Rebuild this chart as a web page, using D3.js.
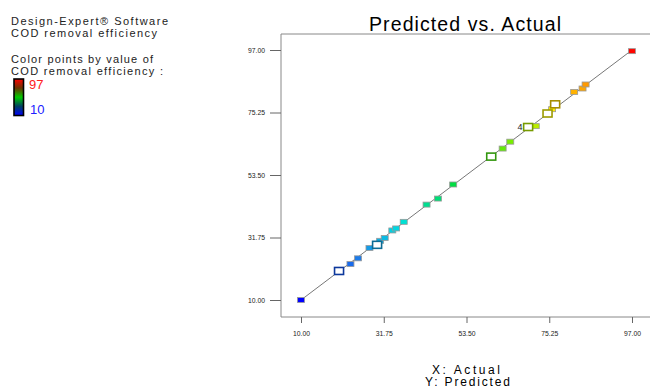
<!DOCTYPE html>
<html>
<head>
<meta charset="utf-8">
<script src="https://cdn.jsdelivr.net/npm/d3@7"></script>
<style>
  body { margin: 0; background: #fff; }
  svg { font-family: "Liberation Sans", Arial, sans-serif; }
</style>
</head>
<body>
<div id="chart"></div>
<script>
// design points
const actual    = [10, 20, 23, 25, 28, 30, 30.8, 32, 34, 35, 37, 43, 46, 50, 60, 63, 65, 69.7, 71.7, 74.8, 76, 76.8, 81.8, 84, 84.8, 97];
const predicted = [10, 20.1, 22.5, 24.5, 28.1, 29.2, 30.6, 31.6, 34.2, 34.9, 37.2, 43.2, 45.3, 50.2, 59.9, 62.7, 65.1, 70.2, 70.5, 74.9, 76.4, 78.1, 82.4, 83.6, 85, 96.6];
const pointCount = [1, 2, 1, 1, 1, 2, 1, 1, 1, 1, 1, 1, 1, 1, 2, 1, 1, 4, 1, 2, 1, 2, 1, 1, 1, 1];
const tickValues = [10.00, 31.75, 53.50, 75.25, 97.00];
const colorStops = [10, 25, 36, 50, 65, 76, 85, 97];
const colorRange = ["#0000ff", "#1e80e8", "#00e0e0", "#00dd44", "#77ee00", "#ffee00", "#ff9900", "#ff0000"];

const width = 651, height = 388;
const frame = {left: 281, top: 34, right: 650, bottom: 317};

let svg = d3.select('#chart').append('svg')
    .attr('width', width)
    .attr('height', height);

let xScale = d3.scaleLinear().domain([10, 97]).range([301, 632]);
let yScale = d3.scaleLinear().domain([10, 97]).range([300, 50]);
let color = d3.scaleLinear().domain(colorStops).range(colorRange);

// frame
svg.append('path')
    .attr('d', `M${frame.left},${frame.top}H${frame.right}M${frame.left},${frame.top}V${frame.bottom}H${frame.right}`)
    .attr('fill', 'none')
    .attr('stroke', '#888')
    .attr('stroke-width', 1);

// axes
let xAxis = d3.axisBottom(xScale).tickValues(tickValues).tickSize(6).tickSizeOuter(0)
    .tickFormat(d3.format('.2f'));
let yAxis = d3.axisLeft(yScale).tickValues(tickValues).tickSize(11).tickSizeOuter(0)
    .tickFormat(d3.format('.2f'));

let gx = svg.append('g')
    .attr('transform', 'translate(0,' + frame.bottom + ')')
    .call(xAxis);
let gy = svg.append('g')
    .attr('transform', 'translate(' + frame.left + ',0)')
    .call(yAxis);
[gx, gy].forEach(g => {
    g.select('.domain').remove();
    g.selectAll('.tick line').attr('stroke', '#666');
    g.selectAll('.tick text')
        .attr('font-size', 6.8)
        .attr('fill', '#222')
        .attr('font-family', '"Liberation Sans", Arial, sans-serif');
});
gx.selectAll('.tick text').attr('dy', '1.45em');
gy.selectAll('.tick text').attr('dx', '-0.3em');

// diagonal
svg.append('line')
    .attr('x1', xScale(10)).attr('y1', yScale(10))
    .attr('x2', xScale(97)).attr('y2', yScale(97))
    .attr('stroke', '#777')
    .attr('stroke-width', 1);

// points
let pts = actual.map((a, i) => ({a: a, p: predicted[i], n: pointCount[i]}));

svg.append('g').selectAll('rect.single')
    .data(pts.filter(d => d.n === 1))
    .enter().append('rect')
    .attr('x', d => xScale(d.a) - 3.5)
    .attr('y', d => yScale(d.p) - 2.5)
    .attr('width', 7)
    .attr('height', 5)
    .attr('fill', d => color(d.p))
    .attr('stroke', '#999')
    .attr('stroke-width', 0.8);

svg.append('g').selectAll('rect.multi')
    .data(pts.filter(d => d.n > 1))
    .enter().append('rect')
    .attr('x', d => xScale(d.a) - 4.5)
    .attr('y', d => yScale(d.p) - 3.5)
    .attr('width', 9)
    .attr('height', 7)
    .attr('fill', '#fff')
    .attr('stroke', d => d3.color(color(d.p)).darker(1.2))
    .attr('stroke-width', 1.6);

svg.append('g').selectAll('text')
    .data(pts.filter(d => d.n > 2))
    .enter().append('text')
    .attr('x', d => xScale(d.a) - 5.5)
    .attr('y', d => yScale(d.p) + 3)
    .attr('text-anchor', 'end')
    .attr('font-size', 9)
    .attr('fill', '#222')
    .text(d => d.n);

// title and axis captions
svg.append('text')
    .attr('x', 369).attr('y', 31)
    .attr('font-size', 19.5)
    .attr('textLength', 192).attr('lengthAdjust', 'spacing')
    .text('Predicted vs. Actual');
svg.append('text')
    .attr('x', 432).attr('y', 373.5)
    .attr('font-size', 12)
    .attr('textLength', 68).attr('lengthAdjust', 'spacing')
    .text('X: Actual');
svg.append('text')
    .attr('x', 425).attr('y', 386)
    .attr('font-size', 12)
    .attr('textLength', 85).attr('lengthAdjust', 'spacing')
    .text('Y: Predicted');

// info block on the left
let info = ['Design-Expert® Software', 'COD removal efficiency'];
let infoWidth = [157, 146];
let info2 = ['Color points by value of', 'COD removal efficiency :'];
let info2Width = [142, 152];
svg.selectAll('text.info')
    .data(info).enter().append('text')
    .attr('x', 11).attr('y', (d, i) => 25 + i * 11.5)
    .attr('font-size', 11).attr('fill', '#222')
    .attr('textLength', (d, i) => infoWidth[i]).attr('lengthAdjust', 'spacing')
    .text(d => d);
svg.selectAll('text.info2')
    .data(info2).enter().append('text')
    .attr('x', 11).attr('y', (d, i) => 63 + i * 12)
    .attr('font-size', 11).attr('fill', '#222')
    .attr('textLength', (d, i) => info2Width[i]).attr('lengthAdjust', 'spacing')
    .text(d => d);

let grad = svg.append('defs').append('linearGradient')
    .attr('id', 'legendGrad')
    .attr('x1', 0).attr('y1', 0).attr('x2', 0).attr('y2', 1);
[['0%', '#ff0000'], ['25%', '#6a3300'], ['50%', '#00cc00'], ['75%', '#004060'], ['100%', '#0000ff']]
    .forEach(s => grad.append('stop').attr('offset', s[0]).attr('stop-color', s[1]));
svg.append('rect')
    .attr('x', 14).attr('y', 79)
    .attr('width', 9.5).attr('height', 36.5)
    .attr('fill', 'url(#legendGrad)')
    .attr('stroke', '#000')
    .attr('stroke-width', 1.6);
svg.append('text')
    .attr('x', 29).attr('y', 89)
    .attr('font-size', 13).attr('fill', '#ff2020')
    .text('97');
svg.append('text')
    .attr('x', 30).attr('y', 114)
    .attr('font-size', 13).attr('fill', '#2020ff')
    .text('10');
</script>
</body>
</html>
